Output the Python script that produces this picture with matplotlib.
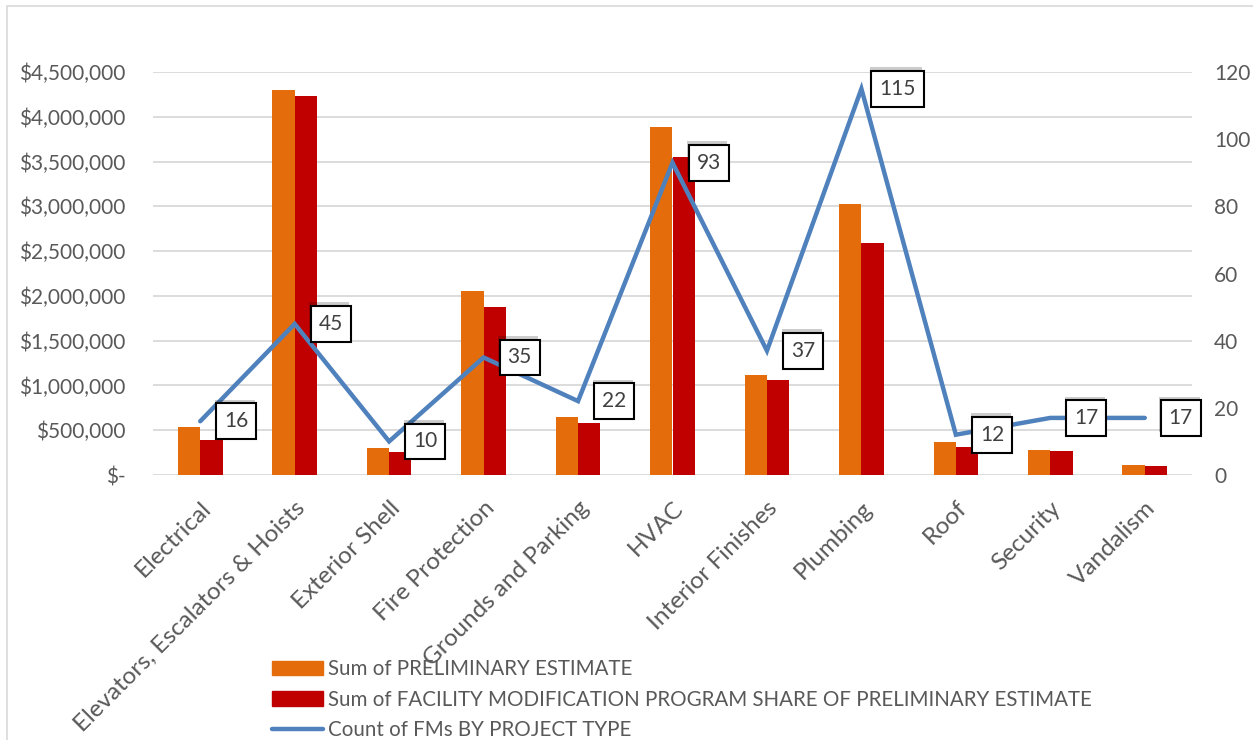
import matplotlib
matplotlib.use("Agg")
import matplotlib.pyplot as plt
import matplotlib.patheffects as pe
from matplotlib.patches import Rectangle, Patch
from matplotlib.lines import Line2D
import numpy as np

plt.rcParams['font.family'] = ['Lato', 'DejaVu Sans']

# data
categories = ['Electrical', 'Elevators, Escalators & Hoists', 'Exterior Shell',
              'Fire Protection', 'Grounds and Parking', 'HVAC', 'Interior Finishes',
              'Plumbing', 'Roof', 'Security', 'Vandalism']
prelim_estimate = [536000, 4300000, 298000, 2057000, 651000, 3884000,
                   1116000, 3025000, 368000, 279000, 112000]
fmp_share = [390000, 4230000, 253000, 1878000, 580000, 3553000,
             1060000, 2593000, 312000, 270000, 97000]
fm_count = [16, 45, 10, 35, 22, 93, 37, 115, 12, 17, 17]

left_ticks = [0, 500000, 1000000, 1500000, 2000000, 2500000,
              3000000, 3500000, 4000000, 4500000]
right_ticks = [0, 20, 40, 60, 80, 100, 120]

ORANGE = '#E46C0A'
RED = '#C00000'
BLUE = '#4F81BD'
GRID = '#D9D9D9'
TXT = '#595959'
FS = 15.0

fig = plt.figure(figsize=(12.53, 7.40), dpi=100)
ax = fig.add_axes([153 / 1253, 1 - 475 / 740, 1039 / 1253, 403 / 740])

x = np.arange(len(categories))
w = 0.236
ax.bar(x - w / 2, prelim_estimate, w, color=ORANGE, zorder=2)
ax.bar(x + w / 2, fmp_share, w, color=RED, zorder=2)

ax.set_xlim(-0.5, len(categories) - 0.5)
ax.set_ylim(0, 4500000)
ax.set_yticks(left_ticks)
ax.set_yticklabels(['$-' if v == 0 else f'${v:,.0f}' for v in left_ticks])
ax.yaxis.grid(True, color=GRID, linewidth=1.3, zorder=0)
ax.set_axisbelow(True)
for s in ax.spines.values():
    s.set_visible(False)
ax.tick_params(axis='y', length=0, pad=20, labelsize=FS, labelcolor=TXT)
ax.tick_params(axis='x', length=0, pad=16, labelsize=17.5, labelcolor=TXT)
ax.set_xticks(x)
ax.set_xticklabels(categories, rotation=45, ha='right', va='top',
                   rotation_mode='anchor')

ax2 = ax.twinx()
ax2.set_ylim(0, 120)
ax2.set_yticks(right_ticks)
ax2.tick_params(axis='y', length=0, pad=16, labelsize=FS, labelcolor=TXT)
for s in ax2.spines.values():
    s.set_visible(False)
ax2.plot(x, fm_count, color=BLUE, linewidth=3.2, solid_capstyle='round',
         solid_joinstyle='miter', zorder=3)

for xi, c in zip(x, fm_count):
    t = ax2.annotate(str(c), (xi, c), xytext=(26, 0), textcoords='offset points',
                     ha='center', va='center', fontsize=FS, color='#404040',
                     zorder=5,
                     bbox=dict(boxstyle='square,pad=0.38', fc='white',
                               ec='black', lw=1.5))
    t.get_bbox_patch().set_path_effects([
        pe.SimplePatchShadow(offset=(-1, 2.5), shadow_rgbFace='black', alpha=0.2),
        pe.Normal()])

handles = [Patch(color=ORANGE), Patch(color=RED),
           Line2D([], [], color=BLUE, linewidth=3.2, solid_capstyle='round')]
labels = ['Sum of PRELIMINARY ESTIMATE',
          'Sum of FACILITY MODIFICATION PROGRAM SHARE OF PRELIMINARY ESTIMATE',
          'Count of FMs BY PROJECT TYPE']
fig.legend(handles, labels, loc='upper left',
           bbox_to_anchor=(272 / 1253, 1 - 659 / 740), frameon=False,
           fontsize=14.8, labelcolor=TXT, borderpad=0, borderaxespad=0,
           handlelength=2.5, handleheight=0.68, handletextpad=0.2,
           labelspacing=0.52)

fig.patches.append(Rectangle((7 / 1253, -0.1), 1.2, 1.1 - 6 / 740,
                             transform=fig.transFigure, fill=False,
                             ec=GRID, lw=1.2))

fig.savefig('out.png', dpi=100)
